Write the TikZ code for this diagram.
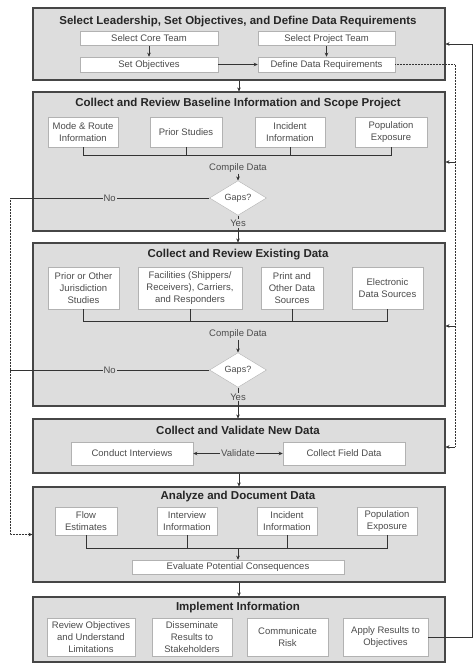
\documentclass[tikz,border=0pt]{standalone}
\usepackage{fontspec}
\setmainfont{Liberation Sans}
\usetikzlibrary{shapes.geometric,arrows.meta}

\begin{document}
\begin{tikzpicture}[x=1pt,y=-1pt,
  >={Stealth[length=4pt,width=3.5pt]},
  panel/.style={draw=gray!55!black,line width=1.1pt,fill=gray!27,minimum width=412pt,inner sep=0pt},
  ptitle/.style={font=\fontsize{11.5}{13}\selectfont\bfseries,text=black!85,inner sep=0pt},
  box/.style={draw=gray!60,fill=white,line width=0.5pt,align=center,inner sep=1pt,font=\fontsize{9.5}{12}\selectfont,text=gray!60!black},
  onebox/.style={box,text height=7pt,text depth=2pt,inner sep=0pt},
  lbl/.style={font=\fontsize{9.5}{11}\selectfont,text=gray!60!black,inner sep=1pt},
  gap/.style={diamond,draw=gray!60,fill=white,minimum width=57pt,minimum height=30pt,inner sep=0pt,font=\fontsize{9}{10}\selectfont,text=gray!60!black},
  link/.style={draw=gray!40!black,line width=0.5pt}]
\useasboundingbox (0,0) rectangle (473,667);

% panels
\node[panel,minimum height=72pt]  (p1) at (239,44) {};
\node[panel,minimum height=139pt] (p2) at (239,161.5) {};
\node[panel,minimum height=163pt] (p3) at (239,324.5) {};
\node[panel,minimum height=54pt]  (p4) at (239,446) {};
\node[panel,minimum height=95pt]  (p5) at (239,534.5) {};
\node[panel,minimum height=65pt]  (p6) at (239,629.5) {};

\node[ptitle] (t1) at (238,22)  {Select Leadership, Set Objectives, and Define Data Requirements};
\node[ptitle] (t2) at (238,104) {Collect and Review Baseline Information and Scope Project};
\node[ptitle] (t3) at (238,255) {Collect and Review Existing Data};
\node[ptitle] (t4) at (238,430) {Collect and Validate New Data};
\node[ptitle] (t5) at (238,497) {Analyze and Document Data};
\node[ptitle] (t6) at (238,608) {Implement Information};

% select leadership
\node[onebox,minimum width=138pt,minimum height=14pt] (b11) at (149,38.5)   {Select Core Team};
\node[onebox,minimum width=137pt,minimum height=14pt] (b12) at (326.5,38.5) {Select Project Team};
\node[onebox,minimum width=138pt,minimum height=15pt] (b13) at (149,64.5)   {Set Objectives};
\node[onebox,minimum width=137pt,minimum height=15pt] (b14) at (326.5,64.5) {Define Data Requirements};
\draw[link,->] (b11.south) -- (b13.north);
\draw[link,->] (b12.south) -- (b14.north);
\draw[link,->] (b13.east) -- (b14.west);
\draw[link,->] (p1.south) -- (p2.north);

% baseline information
\node[box,minimum width=70pt,minimum height=30pt] (b21) at (83,132)  {Mode \& Route\\Information};
\node[box,minimum width=72pt,minimum height=30pt] (b22) at (186,132) {Prior Studies};
\node[box,minimum width=70pt,minimum height=30pt] (b23) at (290,132) {Incident\\Information};
\node[box,minimum width=72pt,minimum height=30pt] (b24) at (391,132) {Population\\Exposure};
\draw[link] (b21.south) -- ++(0,8) -| (b24.south);
\foreach \b in {b22,b23}{\draw[link] (\b.south) -- ++(0,8);}
\node[lbl] (c2) at (238,168) {Compile Data};
\node[gap] (d2) at (238,198) {Gaps?};
\draw[link,->] (c2.south) -- (d2.north);
\coordinate (n2) at (10,198);
\draw[link] (d2.west) -- node[lbl,fill=gray!27]{No} (n2);
\draw[link,->] (d2.south) -- node[lbl,fill=gray!27,pos=0.3]{Yes} (d2.south |- p3.north);

% existing data
\node[box,minimum width=71pt,minimum height=42pt]  (b31) at (83.5,288) {Prior or Other\\Jurisdiction\\Studies};
\node[box,minimum width=104pt,minimum height=42pt] (b32) at (190,288)  {Facilities (Shippers/\\Receivers), Carriers,\\and Responders};
\node[box,minimum width=62pt,minimum height=42pt]  (b33) at (292,288)  {Print and\\Other Data\\Sources};
\node[box,minimum width=71pt,minimum height=42pt]  (b34) at (387.5,288) {Electronic\\Data Sources};
\draw[link] (b31.south) -- ++(0,12) -| (b34.south);
\foreach \b in {b32,b33}{\draw[link] (\b.south) -- ++(0,12);}
\node[lbl] (c3) at (238,334) {Compile Data};
\node[gap] (d3) at (238,370) {Gaps?};
\draw[link,->] (c3.south) -- (d3.north);
\coordinate (n3) at (10,370);
\draw[link] (d3.west) -- node[lbl,fill=gray!27]{No} (n3);
\draw[link,->] (d3.south) -- node[lbl,fill=gray!27,pos=0.3]{Yes} (d3.south |- p4.north);

% new data
\node[onebox,minimum width=122pt,minimum height=23pt] (b41) at (132,453.5) {Conduct Interviews};
\node[onebox,minimum width=122pt,minimum height=23pt] (b42) at (344,453.5) {Collect Field Data};
\draw[link,<->] (b41.east) -- node[lbl,fill=gray!27]{Validate} (b42.west);
\draw[link,->] (p4.south) -- (p5.north);

% analyze
\node[box,minimum width=62pt,minimum height=28pt] (b51) at (86,521)  {Flow\\Estimates};
\node[box,minimum width=60pt,minimum height=28pt] (b52) at (187,521) {Interview\\Information};
\node[box,minimum width=60pt,minimum height=28pt] (b53) at (287,521) {Incident\\Information};
\node[box,minimum width=60pt,minimum height=28pt] (b54) at (387,521) {Population\\Exposure};
\draw[link] (b51.south) -- ++(0,13) -| (b54.south);
\foreach \b in {b52,b53}{\draw[link] (\b.south) -- ++(0,13);}
\coordinate (j5) at (238,548);
\node[onebox,minimum width=212pt,minimum height=14pt] (ev) at (238,567) {Evaluate Potential Consequences};
\draw[link,->] (j5) -- (ev.north);
\draw[link,->] (p5.south) -- (p6.north);

% implement
\node[box,minimum width=88pt,minimum height=38pt] (b61) at (91,637)    {Review Objectives\\and Understand\\Limitations};
\node[box,minimum width=80pt,minimum height=38pt] (b62) at (192,637)   {Disseminate\\Results to\\Stakeholders};
\node[box,minimum width=81pt,minimum height=38pt] (b63) at (287.5,637) {Communicate\\Risk};
\node[box,minimum width=85pt,minimum height=38pt] (b64) at (385.5,637) {Apply Results to\\Objectives};

% feedback lines
\draw[link,densely dotted,->] (n2) |- (p5.west);
\coordinate (rt) at (455,64.5);
\coordinate (r2) at (455,162);
\coordinate (r3) at (455,326);
\coordinate (r4) at (455,447);
\draw[link,densely dotted] (b14.east) -- (rt) -- (r4);
\foreach \p/\r in {p2/r2,p3/r3,p4/r4}{\draw[link,->] (\r) -- (\r -| \p.east);}
\coordinate (fb) at (472,44);
\draw[link,->] (b64.east) -| (fb) -- (p1.east);
\end{tikzpicture}
\end{document}
